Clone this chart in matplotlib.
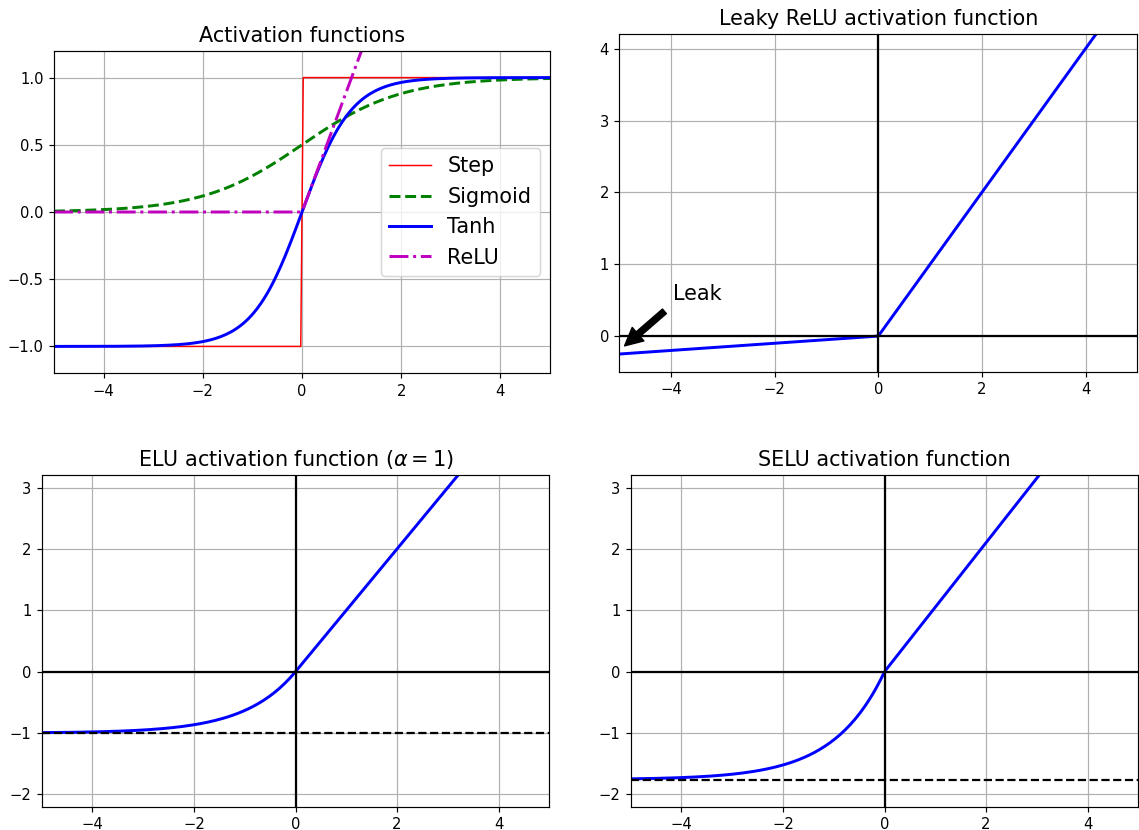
import numpy as np
import matplotlib
matplotlib.use("Agg")
import matplotlib.pyplot as plt

# Output geometry
W_PX, H_PX = 1139, 830
DPI = 106.5

# Input range shared by every panel
z_min, z_max, n_points = -5.0, 5.0, 200

# Activation parameters
leaky_alpha = 0.05
elu_alpha = 1.0
selu_alpha = 1.6732632423543772
selu_scale = 1.0507009873554805

# Panel titles and legend labels
titles = ["Activation functions",
          "Leaky ReLU activation function",
          r"ELU activation function ($\alpha=1$)",
          "SELU activation function"]
legend_labels = ["Step", "Sigmoid", "Tanh", "ReLU"]

# Axis limits per panel: [xmin, xmax, ymin, ymax]
limits = [[-5, 5, -1.2, 1.2],
          [-5, 5, -0.5, 4.2],
          [-5, 5, -2.2, 3.2],
          [-5, 5, -2.2, 3.2]]


def sigmoid(z):
    return 1 / (1 + np.exp(-z))


def relu(z):
    return np.maximum(0, z)


def leaky_relu(z, alpha):
    return np.maximum(alpha * z, z)


def elu(z, alpha):
    return np.where(z < 0, alpha * (np.exp(z) - 1), z)


def selu(z, scale, alpha):
    return scale * elu(z, alpha)


z = np.linspace(z_min, z_max, n_points)

fig = plt.figure(figsize=(W_PX / DPI, H_PX / DPI), dpi=DPI)


def px_axes(left, top, right, bottom):
    return fig.add_axes([left / W_PX, 1 - bottom / H_PX,
                         (right - left) / W_PX, (bottom - top) / H_PX])


# --- Panel 1: classic activations ---
ax = px_axes(54, 50.7, 550, 373.3)
ax.plot(z, np.sign(z), "r-", linewidth=1, label=legend_labels[0])
ax.plot(z, sigmoid(z), "g--", linewidth=2, label=legend_labels[1])
ax.plot(z, np.tanh(z), "b-", linewidth=2, label=legend_labels[2])
ax.plot(z, relu(z), "m-.", linewidth=2, label=legend_labels[3])
ax.grid(True)
ax.legend(loc="center right", fontsize=14)
ax.set_title(titles[0], fontsize=14)
ax.axis(limits[0])

# --- Panel 2: leaky ReLU ---
ax = px_axes(619.3, 34.3, 1137.3, 372)
ax.plot(z, leaky_relu(z, leaky_alpha), "b-", linewidth=2)
ax.plot([-5, 5], [0, 0], "k-")
ax.plot([0, 0], [-0.5, 4.2], "k-")
ax.grid(True)
ax.annotate("Leak", xytext=(-3.5, 0.5), xy=(-5, -0.2),
            arrowprops=dict(facecolor="black", shrink=0.1),
            fontsize=14, ha="center")
ax.set_title(titles[1], fontsize=14)
ax.axis(limits[1])

# --- Panel 3: ELU ---
ax = px_axes(41.7, 475.3, 549.3, 806.7)
ax.plot(z, elu(z, elu_alpha), "b-", linewidth=2)
ax.plot([-5, 5], [0, 0], "k-")
ax.plot([-5, 5], [-elu_alpha, -elu_alpha], "k--")
ax.plot([0, 0], [-2.2, 3.2], "k-")
ax.grid(True)
ax.set_title(titles[2], fontsize=14)
ax.axis(limits[2])

# --- Panel 4: SELU ---
ax = px_axes(630.7, 475.3, 1138.3, 806.7)
ax.plot(z, selu(z, selu_scale, selu_alpha), "b-", linewidth=2)
ax.plot([-5, 5], [0, 0], "k-")
ax.plot([-5, 5], [-selu_scale * selu_alpha, -selu_scale * selu_alpha], "k--")
ax.plot([0, 0], [-2.2, 3.2], "k-")
ax.grid(True)
ax.set_title(titles[3], fontsize=14)
ax.axis(limits[3])

fig.savefig("out.png", dpi=DPI)
